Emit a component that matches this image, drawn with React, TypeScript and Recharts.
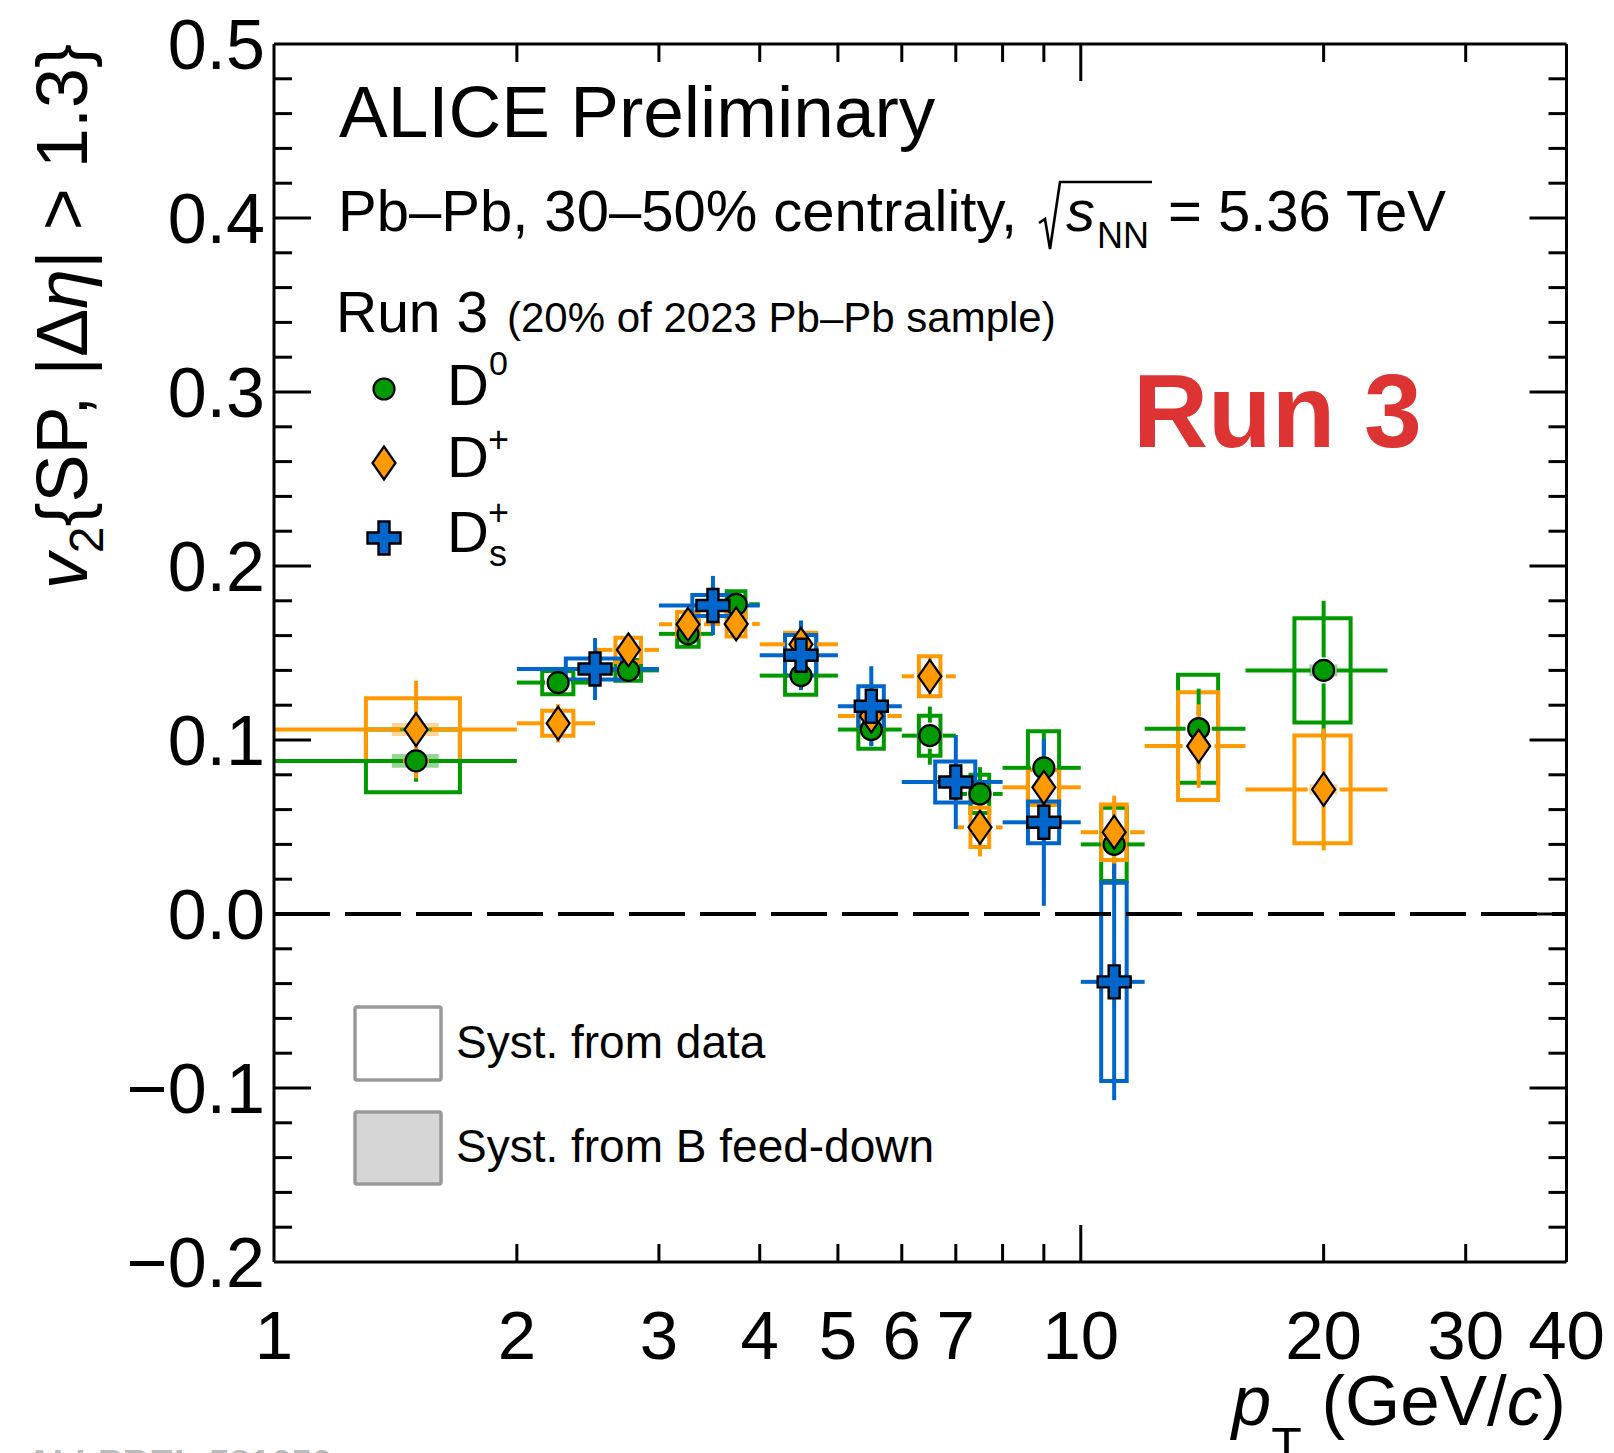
import React from 'react'
import {
  ComposedChart, XAxis, YAxis, Scatter, ReferenceArea, ReferenceLine,
} from 'recharts'

// pT bins (GeV/c) shared by D0 and D+
const binLo = [1, 2, 2.5, 3, 3.5, 4, 5, 6, 7, 8, 10, 12, 16]
const binHi = [2, 2.5, 3, 3.5, 4, 5, 6, 7, 8, 10, 12, 16, 24]
const ptMean = [1.5, 2.25, 2.75, 3.26, 3.74, 4.5, 5.5, 6.5, 7.5, 9.0, 11.0, 14.0, 20.0]

// D0
const d0V2 = [0.088, 0.133, 0.140, 0.161, 0.178, 0.137, 0.106, 0.1025, 0.069, 0.084, 0.040, 0.1065, 0.140]
const d0Stat = [0.012, 0.006, 0.006, 0.006, 0.006, 0.008, 0.009, 0.0167, 0.0154, 0.020, 0.020, 0.023, 0.040]
const d0Syst = [0.018, 0.0067, 0.006, 0.0074, 0.0075, 0.011, 0.011, 0.0115, 0.011, 0.021, 0.021, 0.031, 0.030]
const d0Fd = [0.004, 0.003, 0.003, 0.003, 0.003, 0.003, 0.003, 0.003, 0.003, 0.003, 0.003, 0.0034, 0.0034]

// D+
const dplusV2 = [0.106, 0.1096, 0.1518, 0.1665, 0.1667, 0.155, 0.1138, 0.1366, 0.0498, 0.0728, 0.047, 0.0965, 0.0716]
const dplusStat = [0.028, 0.011, 0.009, 0.008, 0.0087, 0.010, 0.010, 0.012, 0.0167, 0.015, 0.021, 0.024, 0.035]
const dplusSyst = [0.018, 0.0072, 0.007, 0.007, 0.0072, 0.0067, 0.006, 0.0115, 0.0113, 0.010, 0.016, 0.031, 0.031]
const dplusFd = [0.0037, 0.003, 0.003, 0.003, 0.003, 0.003, 0.003, 0.003, 0.003, 0.003, 0.003, 0.003, 0.0029]

// Ds+
const dsLo = [2, 3, 4, 5, 6, 8, 10]
const dsHi = [3, 4, 5, 6, 8, 10, 12]
const dsPt = [2.5, 3.5, 4.5, 5.5, 7.0, 9.0, 11.0]
const dsV2 = [0.1408, 0.1773, 0.1487, 0.1194, 0.0759, 0.0527, -0.039]
const dsStat = [0.0178, 0.017, 0.020, 0.023, 0.027, 0.048, 0.068]
const dsSyst = [0.006, 0.006, 0.0117, 0.0115, 0.0118, 0.012, 0.057]

// axes
const xTicks = [1, 2, 3, 4, 5, 6, 7, 8, 9, 10, 20, 30, 40]
const xLabels = [1, 2, 3, 4, 5, 6, 7, 10, 20, 30, 40]
const yMajor = [-0.2, -0.1, 0, 0.1, 0.2, 0.3, 0.4, 0.5]
const yTicks = yMajor.flatMap((v, i) =>
  i === yMajor.length - 1 ? [v] : [0, 1, 2, 3, 4].map(k => +(v + k * 0.02).toFixed(2)))

const GREEN = '#009900'
const ORANGE = '#ff9900'
const BLUE = '#0066cc'
const FONT = "'Liberation Sans', Arial, Helvetica, sans-serif"

const W = 1614
const H = 1453

const isMajorY = (v: number) => Math.abs(v * 10 - Math.round(v * 10)) < 1e-6

function BottomTick({ x, y, payload }: any) {
  const v = payload.value
  const len = v === 10 ? 37 : 18
  return (
    <g>
      {v !== 1 && v !== 40 && <line x1={x} y1={y} x2={x} y2={y - len} stroke="#000" strokeWidth={3} />}
      {xLabels.includes(v) && (
        <text x={x} y={y + 97} textAnchor="middle" fontFamily={FONT} fontSize={69} fill="#000">{v}</text>
      )}
    </g>
  )
}

function TopTick({ x, y, payload }: any) {
  const v = payload.value
  if (v === 1 || v === 40) return <g />
  const len = v === 10 ? 37 : 18
  return <line x1={x} y1={y} x2={x} y2={y + len} stroke="#000" strokeWidth={3} />
}

function LeftTick({ x, y, payload }: any) {
  const v = payload.value
  const major = isMajorY(v)
  const edge = v === -0.2 || v === 0.5
  return (
    <g>
      {!edge && <line x1={x} y1={y} x2={x + (major ? 37 : 18)} y2={y} stroke="#000" strokeWidth={3} />}
      {major && (
        <text x={x - 9} y={y + 25} textAnchor="end" fontFamily={FONT} fontSize={70} fill="#000">
          {v.toFixed(1).replace('-', '\u2212')}
        </text>
      )}
    </g>
  )
}

function RightTick({ x, y, payload }: any) {
  const v = payload.value
  if (v === -0.2 || v === 0.5) return <g />
  return <line x1={x} y1={y} x2={x - (isMajorY(v) ? 37 : 18)} y2={y} stroke="#000" strokeWidth={3} />
}

// error bar half: drawn from the outer end towards the marker, stopping short of it
const gapShape = (gap: number) => (p: any) => {
  const { x1, y1, x2, y2, stroke, strokeWidth } = p
  const dx = x2 - x1
  const dy = y2 - y1
  const len = Math.hypot(dx, dy)
  if (!(len > gap)) return <g />
  const k = (len - gap) / len
  return <line x1={x1} y1={y1} x2={x1 + dx * k} y2={y1 + dy * k} stroke={stroke} strokeWidth={strokeWidth} />
}

function circleMarker(cx: number, cy: number) {
  return <circle cx={cx} cy={cy} r={10.5} fill={GREEN} stroke="#000" strokeWidth={2.2} />
}

function diamondMarker(cx: number, cy: number) {
  return (
    <path d={`M${cx},${cy - 16.5}L${cx + 11.5},${cy}L${cx},${cy + 16.5}L${cx - 11.5},${cy}Z`}
      fill={ORANGE} stroke="#000" strokeWidth={2.2} strokeLinejoin="miter" />
  )
}

function crossMarker(cx: number, cy: number) {
  const a = 16.5
  const t = 5.5
  return (
    <path
      d={`M${cx - t},${cy - a}H${cx + t}V${cy - t}H${cx + a}V${cy + t}H${cx + t}V${cy + a}H${cx - t}V${cy + t}H${cx - a}V${cy - t}H${cx - t}Z`}
      fill={BLUE} stroke="#000" strokeWidth={2.4} />
  )
}

function renderUncertainties(
  id: string, lo: number[], hi: number[], pt: number[], v2: number[],
  stat: number[], syst: number[], fd: number[] | null, color: string, gap: number,
) {
  const out: React.ReactNode[] = []
  const bar = gapShape(gap)
  pt.forEach((x, i) => {
    const w = hi[i] - lo[i]
    const y = v2[i]
    out.push(
      <ReferenceArea key={`${id}-sys-${i}`} x1={x - 0.2 * w} x2={x + 0.2 * w} y1={y - syst[i]} y2={y + syst[i]}
        fill="none" stroke={color} strokeWidth={4} />,
    )
    if (fd) {
      out.push(
        <ReferenceArea key={`${id}-fd-${i}`} x1={x - 0.1 * w} x2={x + 0.1 * w} y1={y - fd[i]} y2={y + fd[i]}
          fill={color} fillOpacity={0.42} stroke="none" />,
      )
    }
    const segs = [
      [{ x: lo[i], y }, { x, y }],
      [{ x: hi[i], y }, { x, y }],
      [{ x, y: y - stat[i] }, { x, y }],
      [{ x, y: y + stat[i] }, { x, y }],
    ]
    segs.forEach((s, k) => {
      out.push(
        <ReferenceLine key={`${id}-err-${i}-${k}`} segment={s as any} stroke={color} strokeWidth={4} shape={bar} />,
      )
    })
  })
  return out
}

const d0Points = ptMean.map((pt, i) => ({ pt, v2: d0V2[i] }))
const dplusPoints = ptMean.map((pt, i) => ({ pt, v2: dplusV2[i] }))
const dsPoints = dsPt.map((pt, i) => ({ pt, v2: dsV2[i] }))

function Overlay() {
  const txt = { fontFamily: FONT, fill: '#000', style: { whiteSpace: 'pre' as const } }
  return (
    <svg width={W} height={H} style={{ position: 'absolute', left: 0, top: 0, pointerEvents: 'none' }}>
      <text x={339} y={137} fontSize={73} {...txt}>ALICE Preliminary</text>

      <text x={338} y={231} fontSize={58} {...txt}>Pb–Pb, 30–50% centrality,</text>
      <path d="M1039,223 L1045,219 L1050,249 L1060,182 L1152,182" fill="none" stroke="#000" strokeWidth={2.6} />
      <text x={1066} y={231} fontSize={58} fontStyle="italic" {...txt}>s</text>
      <text x={1097} y={248} fontSize={36} {...txt}>NN</text>
      <text x={1168} y={231} fontSize={58} {...txt}>= 5.36 TeV</text>

      <text x={336} y={332} fontSize={57} {...txt}>Run 3</text>
      <text x={507} y={332} fontSize={42} {...txt}>(20% of 2023 Pb–Pb sample)</text>

      {circleMarker(384, 389)}
      {diamondMarker(384, 463)}
      {crossMarker(384, 538)}
      <text x={447} y={405} fontSize={58} {...txt}>D</text>
      <text x={489} y={375} fontSize={34} {...txt}>0</text>
      <text x={447} y={477} fontSize={58} {...txt}>D</text>
      <text x={488} y={452} fontSize={36} {...txt}>+</text>
      <text x={447} y={552} fontSize={58} {...txt}>D</text>
      <text x={488} y={525} fontSize={36} {...txt}>+</text>
      <text x={489} y={566} fontSize={36} {...txt}>s</text>

      <text x={1133} y={447} fontSize={104} fontWeight="bold" fontFamily={FONT} fill="#dd3333">Run 3</text>

      <rect x={355} y={1007} width={86} height={73} rx={2} fill="#fff" stroke="#999" strokeWidth={3.5} />
      <rect x={355} y={1112} width={86} height={72} rx={2} fill="#d6d6d6" stroke="#999" strokeWidth={3.5} />
      <text x={456} y={1058} fontSize={46} {...txt}>Syst. from data</text>
      <text x={456} y={1162} fontSize={46} {...txt}>Syst. from B feed-down</text>

      <text transform="translate(87,44) rotate(-90)" textAnchor="end" fontSize={72} {...txt}>
        <tspan fontStyle="italic">v</tspan>
        <tspan fontSize={48} dy={16}>2</tspan>
        <tspan dy={-16}>{'{SP, |Δ'}</tspan>
        <tspan fontStyle="italic">η</tspan>
        <tspan>{'| > 1.3}'}</tspan>
      </text>

      <text x={1566} y={1425} textAnchor="end" fontSize={71} {...txt}>
        <tspan fontStyle="italic">p</tspan>
        <tspan fontSize={50} dy={38}>T</tspan>
        <tspan dy={-38}>{' (GeV/'}</tspan>
        <tspan fontStyle="italic">c</tspan>
        <tspan>)</tspan>
      </text>

      <text x={26} y={1476} fontSize={37} fontWeight="bold" fontFamily={FONT} fill="#bbbbbb">ALI-PREL-581650</text>
    </svg>
  )
}

export default function App() {
  const frame = { stroke: '#000', strokeWidth: 3 }
  // each axis reserves 1px, so the plot frame spans x 274..1566.5, y 44..1262
  return (
    <div style={{ position: 'absolute', left: 0, top: 0, width: W, height: H, background: '#fff', overflow: 'hidden' }}>
      <ComposedChart width={W} height={H} margin={{ top: 43, right: 46.5, bottom: 190, left: 273 }}>
        <XAxis dataKey="pt" type="number" scale="log" domain={[1, 40]} allowDataOverflow ticks={xTicks}
          interval={0} height={1} tickSize={0} tickMargin={0} tickLine={false} axisLine={frame} tick={<BottomTick />} />
        <XAxis xAxisId="top" orientation="top" dataKey="pt" type="number" scale="log" domain={[1, 40]}
          allowDataOverflow ticks={xTicks} interval={0} height={1} tickSize={0} tickMargin={0} tickLine={false}
          axisLine={frame} tick={<TopTick />} />
        <YAxis type="number" domain={[-0.2, 0.5]} allowDataOverflow ticks={yTicks} interval={0} width={1}
          tickSize={0} tickMargin={0} tickLine={false} axisLine={frame} tick={<LeftTick />} />
        <YAxis yAxisId="right" orientation="right" type="number" domain={[-0.2, 0.5]} allowDataOverflow
          ticks={yTicks} interval={0} width={1} tickSize={0} tickMargin={0} tickLine={false} axisLine={frame}
          tick={<RightTick />} />

        <ReferenceLine y={0} stroke="#000" strokeWidth={4} strokeDasharray="56 15" />

        {renderUncertainties('d0', binLo, binHi, ptMean, d0V2, d0Stat, d0Syst, d0Fd, GREEN, 13)}
        {renderUncertainties('dplus', binLo, binHi, ptMean, dplusV2, dplusStat, dplusSyst, dplusFd, ORANGE, 16)}
        {renderUncertainties('ds', dsLo, dsHi, dsPt, dsV2, dsStat, dsSyst, null, BLUE, 17)}

        <Scatter data={d0Points} dataKey="v2" isAnimationActive={false}
          shape={(p: any) => circleMarker(p.cx, p.cy)} />
        <Scatter data={dplusPoints} dataKey="v2" isAnimationActive={false}
          shape={(p: any) => diamondMarker(p.cx, p.cy)} />
        <Scatter data={dsPoints} dataKey="v2" isAnimationActive={false}
          shape={(p: any) => crossMarker(p.cx, p.cy)} />
      </ComposedChart>
      <Overlay />
    </div>
  )
}
